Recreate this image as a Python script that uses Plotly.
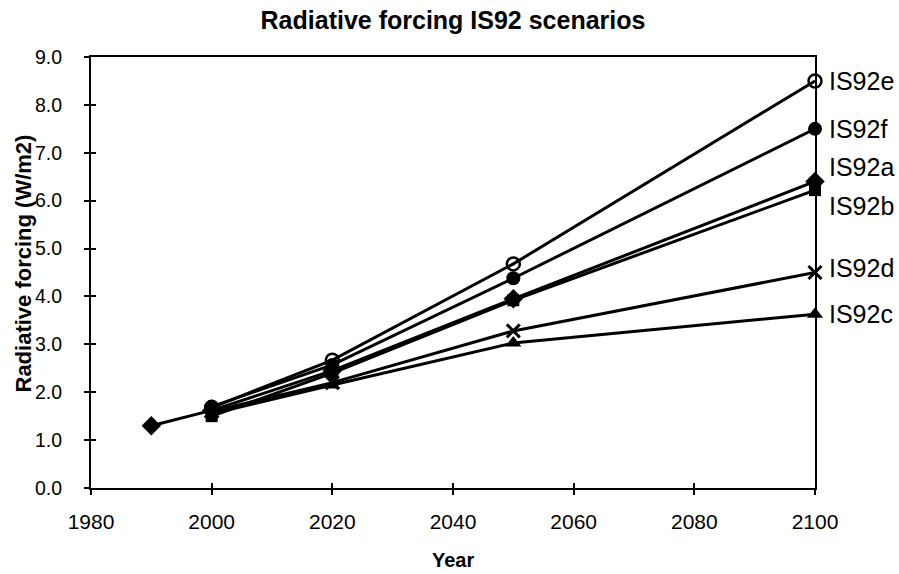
import plotly.graph_objects as go

years = [2000, 2020, 2050, 2100]
series_names = ["IS92e", "IS92f", "IS92a", "IS92b", "IS92d", "IS92c"]
is92e = [1.68, 2.67, 4.68, 8.5]
is92f = [1.7, 2.57, 4.38, 7.5]
is92a_years = [1990, 2000, 2020, 2050, 2100]
is92a = [1.3, 1.62, 2.45, 3.95, 6.4]
is92b = [1.5, 2.4, 3.92, 6.22]
is92d = [1.6, 2.2, 3.28, 4.5]
is92c = [1.55, 2.15, 3.03, 3.63]
label_y = [8.5, 7.5, 6.7, 5.88, 4.6, 3.63]
x_ticks = [1980, 2000, 2020, 2040, 2060, 2080, 2100]

fig = go.Figure()
specs = [
    ("IS92e", years, is92e, dict(symbol="circle-open", size=13, line=dict(width=2.5, color="black"))),
    ("IS92f", years, is92f, dict(symbol="circle", size=14)),
    ("IS92b", years, is92b, dict(symbol="square", size=12)),
    ("IS92a", is92a_years, is92a, dict(symbol="diamond", size=15)),
    ("IS92d", years, is92d, dict(symbol="x-thin", size=13, line=dict(width=3, color="black"))),
    ("IS92c", years, is92c, dict(symbol="triangle-up", size=14)),
]
for name, xs, ys, mk in specs:
    mk = dict(mk, color="black")
    fig.add_trace(go.Scatter(x=xs, y=ys, mode="lines+markers", name=name,
                             line=dict(color="black", width=3), marker=mk,
                             showlegend=False, cliponaxis=False))

# invisible trace on overlay axes to draw the inner half of crossing ticks
fig.add_trace(go.Scatter(x=[1980], y=[0], xaxis="x2", yaxis="y2", mode="markers",
                         marker=dict(opacity=0), showlegend=False, hoverinfo="skip"))

for name, ly in zip(series_names, label_y):
    fig.add_annotation(x=2100, y=ly, text=name, showarrow=False, xanchor="left",
                       xshift=12, font=dict(size=25, color="black"))

# axis titles
fig.add_annotation(text="<b>Year</b>", xref="paper", yref="paper", x=0.5, y=0,
                   yanchor="middle", yshift=-72, showarrow=False, font=dict(size=20))
fig.add_annotation(text="<b>Radiative forcing (W/m2)</b>", xref="paper", yref="paper",
                   x=0, y=0.5, xanchor="center", yanchor="middle", xshift=-68, yshift=9,
                   textangle=-90, showarrow=False, font=dict(size=22))

fig.update_layout(
    width=899, height=574,
    paper_bgcolor="white", plot_bgcolor="white",
    margin=dict(l=91, r=84, t=57, b=86, autoexpand=False),
    title=dict(text="<b>Radiative forcing IS92 scenarios</b>", x=0.5, xanchor="center",
               xref="paper", yref="container", y=1 - 20 / 574, yanchor="middle",
               font=dict(size=25, color="black")),
    font=dict(family="Liberation Sans, Arial", color="black", size=21),
    xaxis2=dict(overlaying="x", range=[1980, 2100], tickvals=x_ticks, ticks="inside",
                ticklen=5, tickwidth=1.5, tickcolor="black", showticklabels=False,
                showgrid=False, zeroline=False, showline=False),
    yaxis2=dict(overlaying="y", range=[0, 9], dtick=1, ticks="inside",
                ticklen=5, tickwidth=1.5, tickcolor="black", showticklabels=False,
                showgrid=False, zeroline=False, showline=False),
)
fig.update_layout(xaxis=dict(range=[1980, 2100], tickvals=x_ticks,
                 showgrid=False, zeroline=False, showline=True, linecolor="black", linewidth=2,
                 mirror=True, ticks="outside", ticklen=5, tickwidth=1.5, tickcolor="black",
                 automargin=False, ticklabelstandoff=9, tickfont=dict(size=21)))
fig.update_layout(yaxis=dict(range=[0, 9], dtick=1, tickformat=".1f",
                 showgrid=False, zeroline=False, showline=True, linecolor="black", linewidth=2,
                 mirror=True, ticks="outside", ticklen=5, tickwidth=1.5, tickcolor="black",
                 automargin=False, ticklabelstandoff=18, tickfont=dict(size=19.5)))

fig.write_html("out.html", config={"displayModeBar": False},
               post_script="document.body.style.margin='0';document.body.style.overflow='hidden';")
